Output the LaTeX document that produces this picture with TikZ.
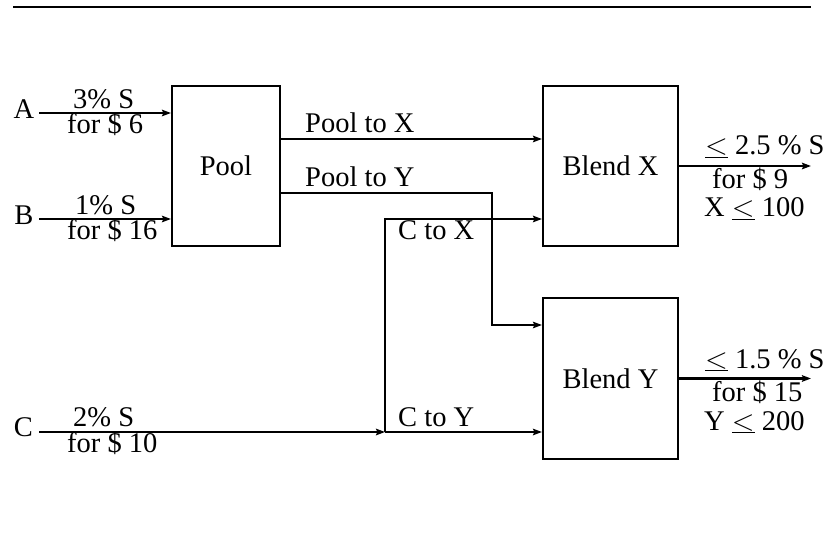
\documentclass[tikz,border=0pt]{standalone}
\usepackage{fontspec}
\setmainfont{Liberation Serif}
\usetikzlibrary{arrows.meta}
\newcommand\myle{\ensuremath{\underline{\scalebox{1.2}{$<$}}}}
\begin{document}
\begin{tikzpicture}[x=1pt,y=-1pt,
  font=\fontsize{28.5}{32}\selectfont,
  box/.style={draw, line width=2.1pt, inner sep=0pt},
  wire/.style={line width=2pt},
  heavy/.style={line width=2.8pt},
  flow/.style={wire, -{Stealth[length=9pt,width=6.5pt,inset=1.5pt]}},
  lbl/.style={inner sep=0pt, anchor=base west},
  tag/.style={inner sep=0pt, anchor=base}]
\useasboundingbox (0,0) rectangle (827,537);
% top rule
\coordinate (r1) at (13,7);
\coordinate (r2) at (811,7);
\draw[line width=2.4pt] (r1) -- (r2);
% boxes
\node[box, minimum width=108pt, minimum height=160pt] (pool) at (226,166) {Pool};
\node[box, minimum width=135pt, minimum height=160pt] (bx) at (610.5,166) {Blend X};
\node[box, minimum width=135pt, minimum height=161pt] (by) at (610.5,378.5) {Blend Y};
% sources
\node[tag] (A) at (24,118.3) {A};
\node[tag] (B) at (24,225) {B};
\node[tag] (C) at (23.5,436.7) {C};
\coordinate (As) at (39,113);
\coordinate (Bs) at (39,219);
\coordinate (Cs) at (39,432);
\draw[flow] (As) -- (As -| pool.west);
\draw[flow] (Bs) -- (Bs -| pool.west);
% pool to X
\coordinate (px) at (0,139);
\draw[flow, heavy] (px -| pool.east) -- (px -| bx.west);
% pool to Y
\coordinate (py) at (492,193);
\coordinate (jy) at (0,325);
\draw[flow] (pool.east |- py) -- (py) -- (py |- jy) -- (jy -| by.west);
% C
\coordinate (cj) at (385,432);
\coordinate (cx) at (0,219);
\draw[flow] (Cs) -- (cj);
\draw[flow] (cj) -- (cj -| by.west);
\draw[flow, heavy] (cj) -- (cj |- cx) -- (cx -| bx.west);
% outputs
\coordinate (ox) at (811,166);
\draw[flow] (bx.east) -- (ox);
\draw[flow, heavy] (by.east) -- (by.east -| ox);
% input labels
\node[lbl] (la1) at (73,108.3) {3\% S};
\node[lbl] (la2) at (67,133.3) {for \$ 6};
\node[lbl] (lb1) at (75,214.3) {1\% S};
\node[lbl] (lb2) at (67,239.3) {for \$ 16};
\node[lbl] (lc1) at (73,426) {2\% S};
\node[lbl] (lc2) at (67,452.7) {for \$ 10};
% flow labels
\node[lbl] (lpx) at (305,133) {Pool to X};
\node[lbl] (lpy) at (305,186.7) {Pool to Y};
\node[lbl] (lcx) at (398,239.3) {C to X};
\node[lbl] (lcy) at (398,426.7) {C to Y};
% output labels
\node[lbl] (ox1) at (705,155) {\myle{} 2.5 \% S};
\node[lbl] (ox2) at (712,188.3) {for \$ 9};
\node[lbl] (ox3) at (704,216.7) {X \myle{} 100};
\node[lbl] (oy1) at (705,368.3) {\myle{} 1.5 \% S};
\node[lbl] (oy2) at (712,401.7) {for \$ 15};
\node[lbl] (oy3) at (704,430) {Y \myle{} 200};
\end{tikzpicture}
\end{document}
